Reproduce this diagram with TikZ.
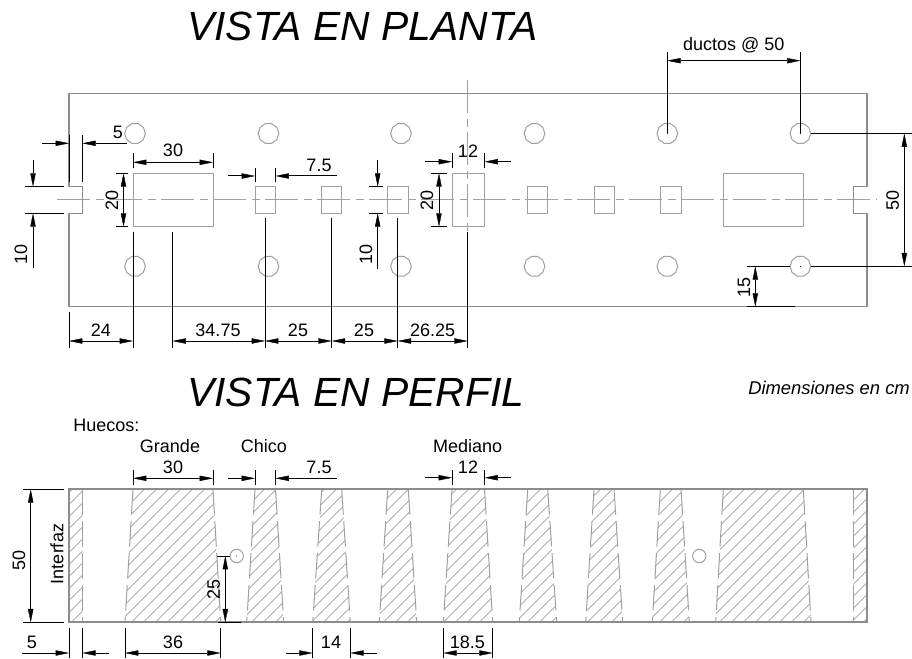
\documentclass[tikz,border=0pt]{standalone}
\usepackage{fontspec}
\setmainfont{Liberation Sans}
\usetikzlibrary{arrows.meta,shapes.geometric}

\definecolor{contorno}{HTML}{8C8C8C}
\definecolor{hueco}{HTML}{A0A0A0}

\tikzset{
  contour/.style={draw=contorno, line width=1.3pt},
  hole/.style={draw=hueco, line width=0.75pt},
  axisline/.style={draw=hueco, line width=0.75pt, dash pattern=on 25pt off 4pt on 6pt off 4pt},
  taper/.style={draw=hueco, line width=0.75pt, dash pattern=on 19pt off 5pt},
  hatchline/.style={draw=hueco, line width=0.42pt},
  cota/.style={draw=black, line width=0.75pt},
  duct/.style={regular polygon, regular polygon sides=10, hole, inner sep=0pt, minimum size=15.5pt},
  label/.style={font=\fontsize{13.5}{14}\selectfont, inner sep=0pt},
  title/.style={font=\fontsize{30.6}{32}\selectfont\itshape, inner sep=0pt, anchor=base west}
}

\begin{document}
\begin{tikzpicture}[x=0.75pt, y=-0.75pt, >={Stealth[length=10pt,width=4pt,inset=0pt,line width=0.3pt]}]
\useasboundingbox (0,0) rectangle (912,659);

% titles
\node [title] (title-top) at (187,40.7) {VISTA EN PLANTA};
\node [title] (title-side) at (187,406) {VISTA EN PERFIL};
\node [label, font=\fontsize{13.8}{14}\selectfont\itshape, anchor=base west] (units) at (748,394) {Dimensiones en cm};

% axes of the plan
\draw [axisline] (57,200) -- (876,200);
\draw [axisline] (467.7,80) -- (467.7,232);

% plan outline
\draw [contour, line width=1.1pt] (69,93.7) -- (867,93.7) -- (867,186.7) -- (853.7,186.7) -- (853.7,213.3)
  -- (867,213.3) -- (867,306.7) -- (69,306.7) -- (69,213.3) -- (82.3,213.3) -- (82.3,186.7) -- (69,186.7) -- cycle;

% openings of the plan
\foreach \a/\b in {133/213,452/484.5,723.3/803.3}
  \draw [hole] (\a,173.3) rectangle (\b,226.7);
\foreach \a/\b in {255/275.5,321.7/341.7,387.7/408.3,527.7/547.7,594/614,660.3/681}
  \draw [hole] (\a,186.7) rectangle (\b,213.3);

\foreach \x [count=\i] in {135,268.5,401,534.5,667.3,800.4} {
  \node [duct] (ductA-\i) at (\x,133.5) {};
  \node [duct] (ductB-\i) at (\x,266.3) {};
}

% hatching of the profile
\begin{scope}
  \clip \foreach \a/\b/\c/\d in {69/82.3/69/82.3,133/213/125/220.7,255/275.5/246.7/283.7,321.7/341.7/312.7/350.3,
    387.7/408.3/379.3/416.7,452/484.5/443.3/492.7,527.7/547.7/519.3/556.7,594/614/585.7/622.7,
    660.3/681/652.3/689.3,723.3/803.3/715.7/811,853.7/867/853.7/867}
    { (\a,489.3) -- (\b,489.3) -- (\d,622.3) -- (\c,622.3) -- cycle };
  \foreach \h in {-60.7,-48.7,...,864}
    \draw [hatchline] (\h,622.3) -- ++(133,-133);
\end{scope}

\foreach \a/\b/\c/\d in {133/213/125/220.7,255/275.5/246.7/283.7,321.7/341.7/312.7/350.3,
    387.7/408.3/379.3/416.7,452/484.5/443.3/492.7,527.7/547.7/519.3/556.7,594/614/585.7/622.7,
    660.3/681/652.3/689.3,723.3/803.3/715.7/811} {
  \draw [taper] (\a,489.3) -- (\c,622.3);
  \draw [taper] (\b,489.3) -- (\d,622.3);
}
\draw [taper] (82.3,489.3) -- (82.3,622.3);
\draw [taper] (853.7,489.3) -- (853.7,622.3);

% profile outline
\draw [contour] (69,489.3) rectangle (867,622.3);

\node [circle, hole, inner sep=0pt, minimum size=10pt] (pipe-1) at (236.7,556) {};
\node [circle, hole, inner sep=0pt, minimum size=10pt] (pipe-2) at (699.3,556) {};
\fill (pipe-1.center) circle (0.4pt);

% dots in the marked ducts
\foreach \n in {ductA-5,ductA-6,ductB-6}
  \fill (\n.center) circle (0.4pt);

% extension lines, plan
\foreach \x/\a/\b in {69/135/181.7,82.3/135/181.7,133/153/168,213/153/168,255/168/181.7,275.5/168/181.7,
    452/152.7/168,484.5/152.7/168,69/311.7/348,133/231.7/348,172.5/231.7/348,265/218/348,331.7/218/348,397.7/218/348,467.7/232/348}
  \draw [cota] (\x,\a) -- (\x,\b);
\foreach \y/\a/\b in {186.7/25/64,213.3/25/64,173.3/116/128,226.7/116/128,186.7/369/382.7,213.3/369/382.7,173.3/430.7/447,226.7/430.7/447}
  \draw [cota] (\a,\y) -- (\b,\y);

% extension lines from the ducts
\draw [cota] (ductA-5.center) -- ++(0,-81);
\draw [cota] (ductA-6.center) -- ++(0,-81);
\draw [cota] (ductA-6.east) -- (912,133.5);
\draw [cota] (ductB-6.east) -- (912,266.3);
\draw [cota] (ductB-6.west) -- (747,266.3);
\draw [cota] (747,306.7) -- (795,306.7);

% dimension lines, plan
\foreach \a/\b/\y in {133/213/162.3,667.3/800.4/60.7,69/133/341,172.5/265/341,265/331.7/341,331.7/397.7/341,397.7/467.7/341}
  \draw [cota, <->] (\a,\y) -- (\b,\y);
\foreach \a/\b/\y in {42/69/143.3,127/82.3/143.3,228/255/176,336.7/275.5/176,425/452/161.7,510.7/484.5/161.7}
  \draw [cota, ->] (\a,\y) -- (\b,\y);
\foreach \x/\a/\b in {123.5/173.3/226.7,439/173.3/226.7,904.3/133.5/266.3,755.3/266.3/306.7}
  \draw [cota, <->] (\x,\a) -- (\x,\b);
\foreach \x/\a/\b in {33/160/186.7,33/268/213.3,377.7/160/186.7,377.7/268.7/213.3}
  \draw [cota, ->] (\x,\a) -- (\x,\b);

% extension lines, profile
\foreach \x/\a/\b in {133/470/485,213/470/485,255/470/485,275.5/470/485,452/470/485,484.5/470/485,
    69/628/658,82.3/628/658,125/628/658,220.7/628/658,312.7/628/658,350.3/628/658,443.3/628/658,492.7/628/658}
  \draw [cota] (\x,\a) -- (\x,\b);
\foreach \y/\a/\b in {489.3/23/64,622.3/23/64,622.3/218/241}
  \draw [cota] (\a,\y) -- (\b,\y);
\draw [cota] (pipe-1.west) -- (217,556);

% dimension lines, profile
\foreach \a/\b/\y in {133/213/478.3,125/220.7/653,443.3/492.7/653}
  \draw [cota, <->] (\a,\y) -- (\b,\y);
\foreach \a/\b/\y in {228/255/478.3,336.7/275.5/478.3,425/452/477.7,510.7/484.5/477.7,22/69/653,108.7/82.3/653,286/312.7/653,377/350.3/653}
  \draw [cota, ->] (\a,\y) -- (\b,\y);
\draw [cota, <->] (30.7,489.3) -- (30.7,622.3);
\draw [cota, <->] (pipe-1.west -| 225.3,0) -- (225.3,622.3);

% labels
\foreach \l/\x/\y [count=\i] in {5/118/132,30/173/150,7.5/319/165,12/468/151,24/101/330,34.75/218/330,25/298/330,25/364/330,26.25/432.7/330,
    30/173/467,7.5/319/467,12/468/467,5/32/642,36/173/642,14/331/642,18.5/467.3/642,Grande/170/446,Chico/264/446,Mediano/467.7/446}
  \node [label] (text-\i) at (\x,\y) {\l};
\foreach \l/\x/\y [count=\i] in {20/112/200,10/21/254,10/366/254,20/427/200,50/892.7/200,15/744/287,50/19/560,Interfaz/57/554,25/213.7/589}
  \node [label, rotate=90] (side-\i) at (\x,\y) {\l};
\node [label, anchor=base] (spacing) at (733.7,51) {ductos @ 50};
\node [label, anchor=west] (holes) at (73,425.7) {Huecos:};

\end{tikzpicture}
\end{document}
